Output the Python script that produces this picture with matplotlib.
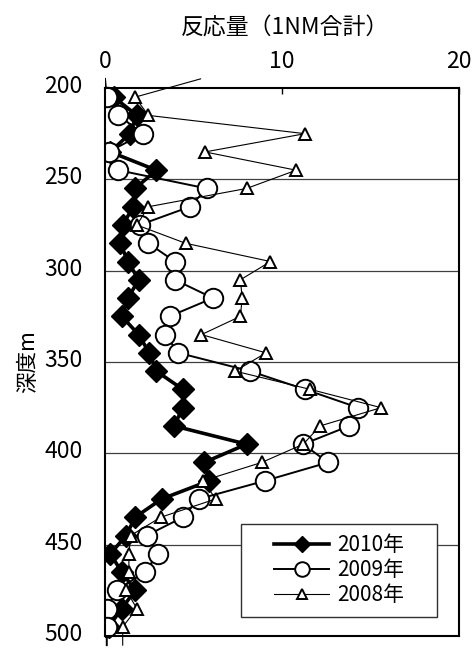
import numpy as np
import matplotlib
matplotlib.use("Agg")
import matplotlib.pyplot as plt
import matplotlib.transforms as mtransforms
from matplotlib.lines import Line2D
from matplotlib.patches import Rectangle

plt.rcParams['font.family'] = ['Noto Sans CJK JP', 'DejaVu Sans']

# depth (m), first and last rows lie just outside the axis range
depth = [195, 205, 215, 225, 235, 245, 255, 265, 275, 285, 295, 305, 315, 325, 335,
         345, 355, 365, 375, 385, 395, 405, 415, 425, 435, 445, 455, 465, 475, 485, 495, 505]

v2010 = [np.nan, 0.5, 1.8, 1.4, 0.3, 2.9, 1.7, 1.6, 1.0, 0.85, 1.3, 1.9, 1.3, 0.95, 1.9,
         2.5, 2.9, 4.4, 4.4, 3.9, 8.0, 5.6, 5.9, 3.2, 1.7, 1.2, 0.3, 0.95, 1.7, 0.95, 0.2, np.nan]
v2009 = [0.0, 0.1, 0.75, 2.15, 0.2, 0.75, 5.75, 4.8, 1.95, 2.45, 3.95, 3.95, 6.1, 3.65, 3.4,
         4.15, 8.2, 11.3, 14.3, 13.8, 11.2, 12.6, 9.05, 5.3, 4.4, 2.35, 3.0, 2.25, 0.65, 0.1, 0.1, 0.1]
v2008 = [5.4, 1.7, 2.45, 11.3, 5.65, 10.8, 8.0, 2.45, 1.8, 4.55, 9.35, 7.65, 7.75, 7.65, 5.45,
         9.1, 7.35, 11.6, 15.6, 12.15, 11.2, 8.85, 5.55, 6.25, 3.15, 1.45, 1.35, 1.35, 1.2, 1.8, 1.0, 1.0]

labels = ['2010年', '2009年', '2008年']
xticks = [0, 10, 20]
yticks = [200, 250, 300, 350, 400, 450, 500]

fig = plt.figure(figsize=(4.75, 6.48), dpi=100)
ax = fig.add_axes([105/475, 1-636/648, 354/475, 548/648])

ax.set_xlim(0, 20)
ax.set_ylim(500, 200)

for y in yticks[1:-1]:
	ax.axhline(y, color='#404040', lw=0.9, zorder=0)

# lines run a little past the frame like in the original chart
clip = Rectangle((0, -0.03), 1, 1.05, transform=ax.transAxes)

styles = [
	dict(marker='D', ms=11.5, mfc='black', mec='black', color='black', lw=2.6),
	dict(marker='o', ms=14, mfc='white', mec='black', mew=1.4, color='black', lw=1.4),
	dict(marker='^', ms=9, mfc='white', mec='black', mew=1.4, color='black', lw=0.8),
]
series = [v2010, v2009, v2008]
for vals, st in zip(series, styles):
	ln, = ax.plot(vals, depth, markevery=slice(1, -1), clip_on=True, **st)
	ln.set_clip_path(clip)

ax.xaxis.tick_top()
ax.set_xticks(xticks)
ax.set_yticks(yticks)
ax.tick_params(axis='x', direction='in', length=4, width=1, labelsize=16.5, pad=11)
ax.tick_params(axis='y', direction='in', length=0, labelsize=16.5, pad=16)
for sp in ax.spines.values():
	sp.set_linewidth(1.5)

# nudge depth labels up a bit so 500 stays inside the picture
up = mtransforms.ScaledTranslation(0, 4/100, fig.dpi_scale_trans)
for lab in ax.get_yticklabels():
	lab.set_transform(lab.get_transform() + up)

ax.set_ylabel('深度m', fontsize=15.5, labelpad=4)
fig.text(285/475, 1-28/648, '反応量（1NM合計）', fontsize=16.5, ha='center', va='center')

# legend box: frame drawn separately so the entries sit centred with wide side margins
box = Rectangle((0.384, 0.035), 0.554, 0.170, transform=ax.transAxes,
	facecolor='white', edgecolor='#303030', lw=1.0, zorder=5)
ax.add_patch(box)
handles = [Line2D([], [], **dict(st, ms=st['ms']*0.75)) for st in styles]
leg = ax.legend(handles, labels, loc='center', bbox_to_anchor=(0.661, 0.120),
	borderaxespad=0, fontsize=15, frameon=False, handlelength=2.65,
	handletextpad=0.35, labelspacing=0.15, borderpad=0.2)
leg.set_zorder(6)

fig.savefig('out.png', dpi=100)
